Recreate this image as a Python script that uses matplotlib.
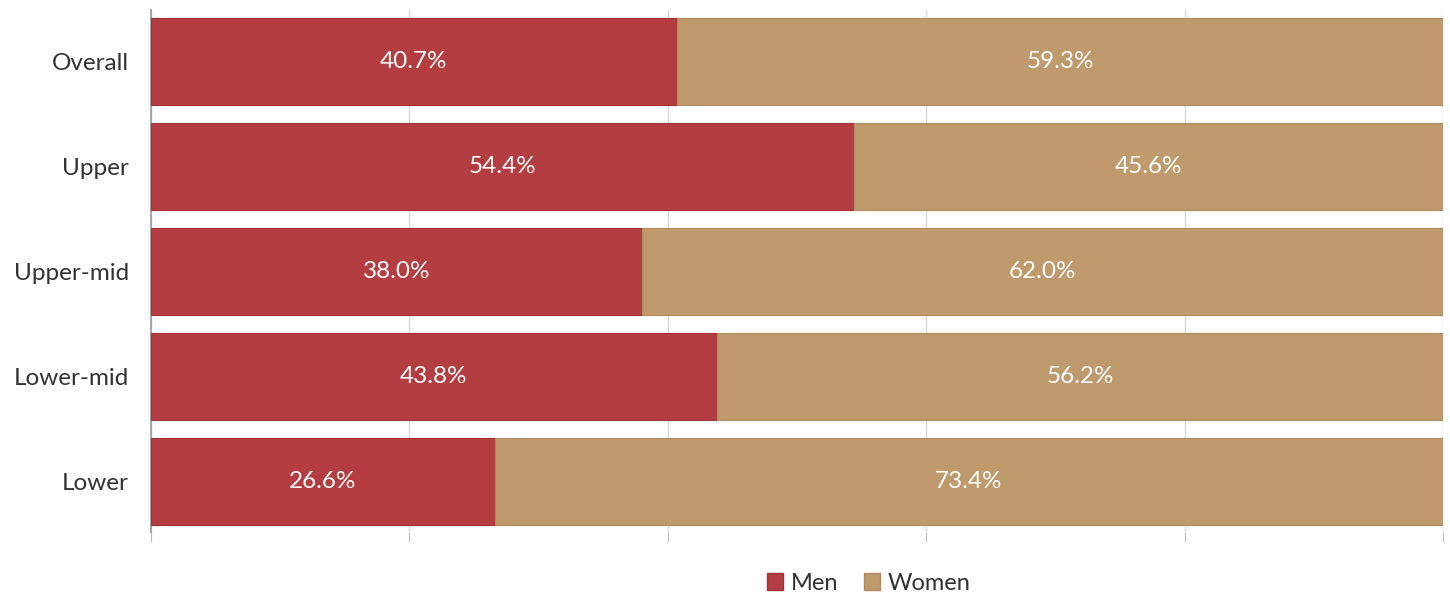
import matplotlib.pyplot as plt
from matplotlib.patches import Patch

plt.rcParams['font.family'] = ['Lato', 'DejaVu Sans']

categories = ['Overall', 'Upper', 'Upper-mid', 'Lower-mid', 'Lower']
men = [40.7, 54.4, 38.0, 43.8, 26.6]
women = [59.3, 45.6, 62.0, 56.2, 73.4]

men_color = '#B33D40'
women_color = '#BE9A6D'

fig = plt.figure(figsize=(14.5, 5.92), dpi=100)
ax = fig.add_axes([151 / 1450, 1 - 532 / 592, (1443 - 151) / 1450, 522 / 592])

y = range(len(categories))
ax.barh(y, men, height=0.83, color=men_color, edgecolor='#A23235', linewidth=0.8, zorder=3)
ax.barh(y, women, left=men, height=0.83, color=women_color, edgecolor='#AE8B60', linewidth=0.8, zorder=3)

for i in y:
    ax.text(men[i] / 2, i, f'{men[i]:.1f}%', ha='center', va='center', color='white', fontsize=17.5, zorder=4)
    ax.text(men[i] + women[i] / 2, i, f'{women[i]:.1f}%', ha='center', va='center', color='white', fontsize=17.5, zorder=4)

ax.set_xlim(0, 100)
ax.set_ylim(4.48, -0.49)
ax.set_xticks([0, 20, 40, 60, 80, 100])
ax.set_xticklabels([])
ax.tick_params(axis='x', length=7, color='#BFBFBF', direction='out')
ax.tick_params(axis='y', length=0, labelsize=17.5, labelcolor='#333333', pad=16)
ax.set_yticks(list(y))
ax.set_yticklabels(categories)
ax.grid(axis='x', color='#D9D9D9', linewidth=1, zorder=0)
for s in ['top', 'right', 'bottom']:
    ax.spines[s].set_visible(False)
ax.spines['left'].set_color('#A6A6A6')
ax.spines['left'].set_linewidth(1.5)

handles = [Patch(facecolor=men_color, edgecolor='#A23235', label='Men'),
           Patch(facecolor=women_color, edgecolor='#AE8B60', label='Women')]
fig.legend(handles=handles, loc='center', bbox_to_anchor=(0.599, 1 - 583 / 592), ncol=2, frameon=False,
           fontsize=17, handlelength=0.7, handleheight=0.7, handletextpad=0.3, columnspacing=1.1,
           labelcolor='#333333')

fig.savefig('out.png', dpi=100)
